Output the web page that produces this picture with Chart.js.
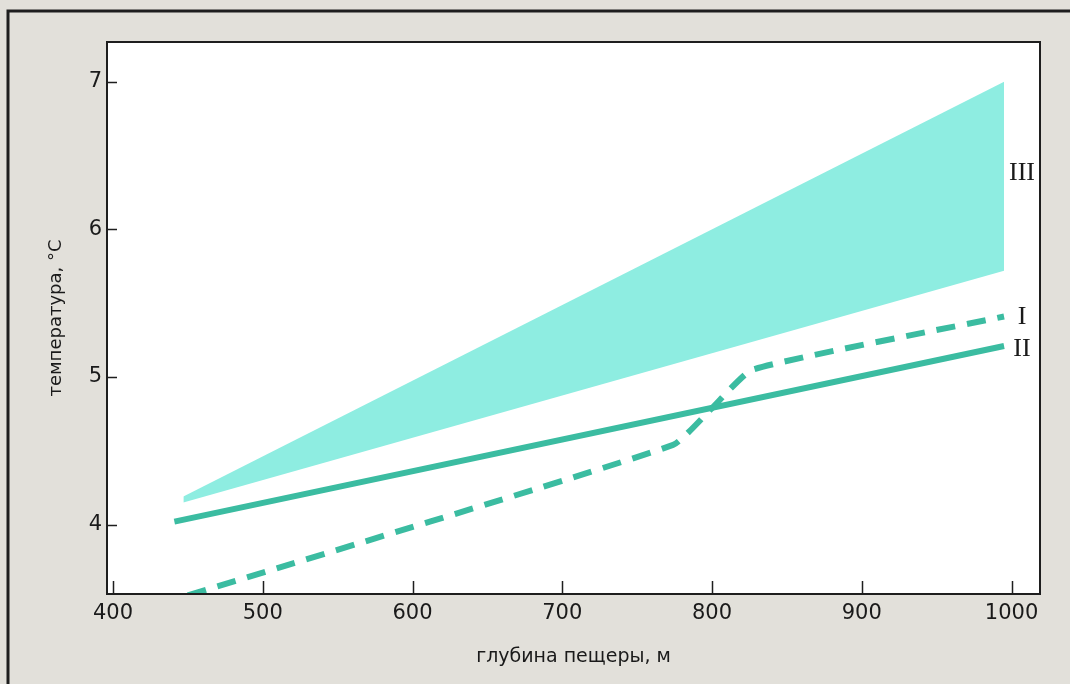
<!DOCTYPE html>
<html>
<head>
<meta charset="utf-8">
<script src="https://cdn.jsdelivr.net/npm/chart.js@4.4.1/dist/chart.umd.min.js"></script>
<style>
  html, body { margin: 0; padding: 0; background: #e2e0da; }
  #wrap { width: 1070px; height: 684px; }
</style>
</head>
<body>
<div id="wrap"><canvas id="caveChart" width="1070" height="684"></canvas></div>
<script>
// curve I (dashed)
const depthI = [450, 774, 800, 827, 995];
const tempI = [3.52, 4.54, 4.79, 5.05, 5.41];
// curve II (solid)
const depthII = [441, 995];
const tempII = [4.02, 5.21];
// band III
const depthIII = [447, 995];
const tempIIIHigh = [4.19, 7.0];
const tempIIILow = [4.15, 5.72];

const curveNames = ['I', 'II', 'III'];
const xTickValues = [400, 500, 600, 700, 800, 900, 1000];
const yTickValues = [4, 5, 6, 7];

const lineColor = '#3bbca1';
const bandColor = '#8eede1';

function pts(xs, ys) {
    return xs.map((x, i) => ({ x: x, y: ys[i] }));
}

// paper background, frame, inner tick marks and roman labels
const paperPlugin = {
    id: 'paper',
    beforeDraw(chart) {
        const ctx = chart.ctx;
        const a = chart.chartArea;
        ctx.save();
        ctx.fillStyle = '#e2e0da';
        ctx.fillRect(0, 0, chart.width, chart.height);
        ctx.fillStyle = '#ffffff';
        ctx.fillRect(a.left, a.top, a.right - a.left, a.bottom - a.top);
        ctx.strokeStyle = '#1e1e1e';
        ctx.lineWidth = 3;
        ctx.beginPath();
        ctx.moveTo(8, chart.height);
        ctx.lineTo(8, 11);
        ctx.lineTo(chart.width, 11);
        ctx.stroke();
        ctx.restore();
    },
    afterDraw(chart) {
        const ctx = chart.ctx;
        const a = chart.chartArea;
        const xs = chart.scales.x;
        const ys = chart.scales.y;
        ctx.save();
        ctx.strokeStyle = '#1e1e1e';
        ctx.lineWidth = 2;
        ctx.strokeRect(a.left, a.top, a.right - a.left, a.bottom - a.top);

        ctx.lineWidth = 1.5;
        ctx.beginPath();
        xs.ticks.forEach(t => {
            const px = Math.round(xs.getPixelForValue(t.value)) + 0.5;
            ctx.moveTo(px, a.bottom);
            ctx.lineTo(px, a.bottom - 13);
        });
        ys.ticks.forEach(t => {
            const py = Math.round(ys.getPixelForValue(t.value)) + 0.5;
            ctx.moveTo(a.left, py);
            ctx.lineTo(a.left + 10, py);
        });
        ctx.stroke();

        // roman numerals next to the curve ends
        ctx.fillStyle = '#1a1a1a';
        ctx.font = '26px "Liberation Serif"';
        ctx.textAlign = 'center';
        ctx.textBaseline = 'middle';
        const lastI = tempI[tempI.length - 1];
        const lastII = tempII[tempII.length - 1];
        const midIII = (tempIIIHigh[1] + tempIIILow[1]) / 2;
        const lx = xs.getPixelForValue(depthII[depthII.length - 1] + 12);
        ctx.fillText(curveNames[0], lx, ys.getPixelForValue(lastI) + 1);
        ctx.fillText(curveNames[1], lx, ys.getPixelForValue(lastII) + 3);
        ctx.fillText(curveNames[2], lx, ys.getPixelForValue(midIII) - 3);
        ctx.restore();
    }
};

const ctx = document.getElementById('caveChart').getContext('2d');

const caveChart = new Chart(ctx, {
    type: 'line',
    data: {
        datasets: [
            {
                label: 'I',
                data: pts(depthI, tempI),
                borderColor: lineColor,
                borderWidth: 6,
                borderDash: [19, 12],
                borderCapStyle: 'butt',
                pointRadius: 0,
                tension: 0.15,
                fill: false
            },
            {
                label: 'II',
                data: pts(depthII, tempII),
                borderColor: lineColor,
                borderWidth: 6,
                pointRadius: 0,
                fill: false
            },
            {
                label: 'III',
                data: pts(depthIII, tempIIIHigh),
                borderColor: 'rgba(0,0,0,0)',
                borderWidth: 0,
                backgroundColor: bandColor,
                pointRadius: 0,
                fill: '+1'
            },
            {
                label: 'III low',
                data: pts(depthIII, tempIIILow),
                borderColor: 'rgba(0,0,0,0)',
                borderWidth: 0,
                pointRadius: 0,
                fill: false
            }
        ]
    },
    options: {
        responsive: false,
        animation: false,
        layout: { padding: { left: 0, top: 42, right: 30, bottom: 0 } },
        plugins: {
            legend: { display: false },
            tooltip: { enabled: false }
        },
        scales: {
            x: {
                type: 'linear',
                min: 396,
                max: 1019,
                afterFit(s) { s.height = 90; },
                afterBuildTicks(s) { s.ticks = xTickValues.map(v => ({ value: v })); },
                border: { display: false },
                grid: { display: false, drawTicks: false },
                ticks: {
                    color: '#1a1a1a',
                    padding: 7,
                    font: { family: 'DejaVu Sans', size: 21 },
                    callback: v => String(v)
                },
                title: {
                    display: true,
                    text: 'глубина пещеры, м',
                    color: '#1a1a1a',
                    font: { family: 'DejaVu Sans', size: 19 },
                    padding: { top: 0, bottom: 16 }
                }
            },
            y: {
                type: 'linear',
                min: 3.53,
                max: 7.27,
                afterFit(s) { s.width = 107; },
                afterBuildTicks(s) { s.ticks = yTickValues.map(v => ({ value: v })); },
                border: { display: false },
                grid: { display: false, drawTicks: false },
                ticks: {
                    color: '#1a1a1a',
                    padding: 5,
                    font: { family: 'DejaVu Sans', size: 21 },
                    callback: v => String(v)
                },
                title: {
                    display: true,
                    text: 'температура, °С',
                    color: '#1a1a1a',
                    font: { family: 'DejaVu Sans', size: 18 },
                    padding: { top: 46, bottom: 0 }
                }
            }
        }
    },
    plugins: [paperPlugin]
});
</script>
</body>
</html>
